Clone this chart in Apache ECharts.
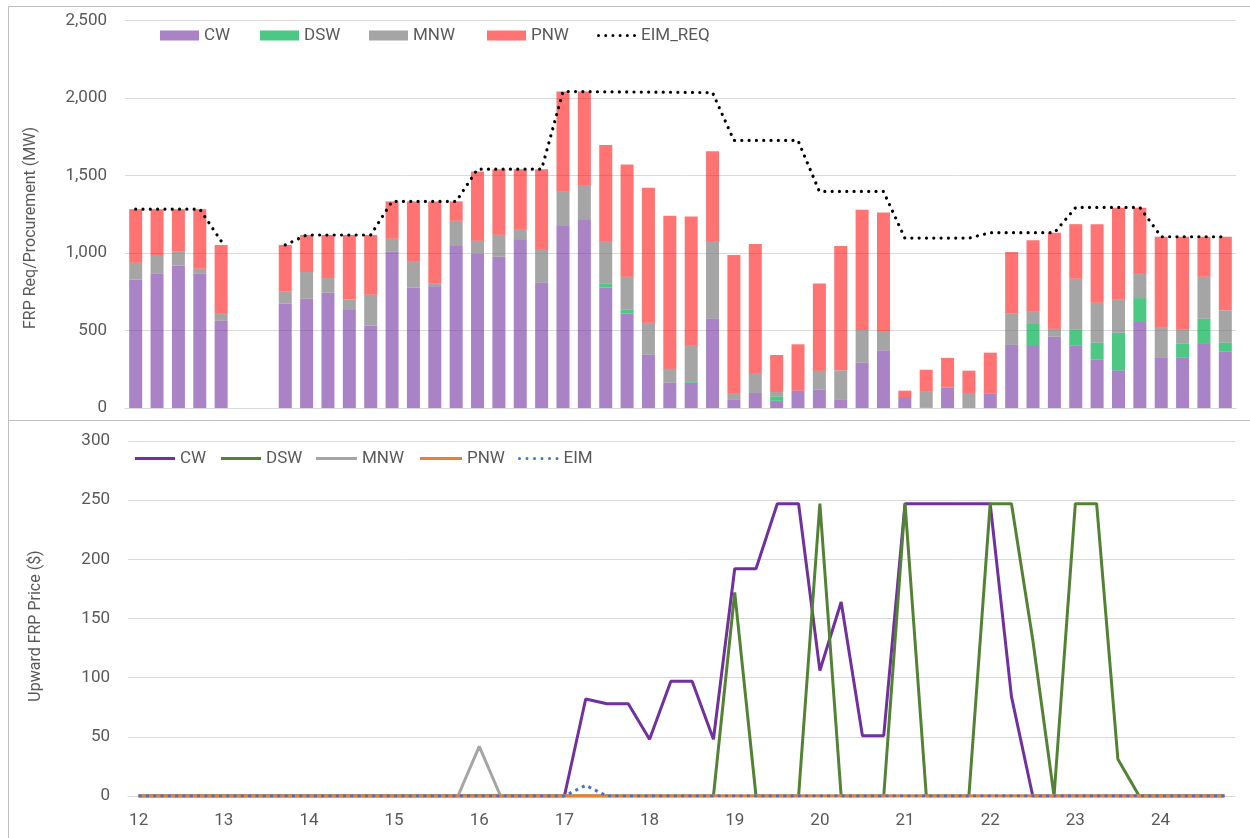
<!DOCTYPE html>
<html>
<head>
<meta charset="utf-8">
<script src="https://cdn.jsdelivr.net/npm/echarts@6/dist/echarts.min.js"></script>
<style>
html,body{margin:0;padding:0;background:#fff;}
#c{width:1250px;height:838px;}
</style>
</head>
<body>
<div id="c"></div>
<script>
// 15-minute intervals, hour-ending 12 to 24:45
const categories = ['12:00','12:15','12:30','12:45','13:00','13:15','13:30','13:45',
'14:00','14:15','14:30','14:45','15:00','15:15','15:30','15:45',
'16:00','16:15','16:30','16:45','17:00','17:15','17:30','17:45',
'18:00','18:15','18:30','18:45','19:00','19:15','19:30','19:45',
'20:00','20:15','20:30','20:45','21:00','21:15','21:30','21:45',
'22:00','22:15','22:30','22:45','23:00','23:15','23:30','23:45',
'24:00','24:15','24:30','24:45'];
const hourLabels = ['12','13','14','15','16','17','18','19','20','21','22','23','24'];

// Top panel: FRP procurement (MW)
const procCW  = [828,866,920,866,563,null,null,675,705,744,632,533,1010,778,785,1045,997,976,1088,808,1174,1217,778,610,344,163,163,578,56,97,47,112,118,56,292,372,71,4,130,0,92,407,406,460,404,312,243,555,327,327,417,365];
const procDSW = [0,0,0,0,0,null,null,0,0,0,0,0,0,0,0,0,0,0,0,0,0,0,26,26,0,0,5,0,0,0,28,0,0,0,0,0,0,0,0,0,0,0,136,0,103,109,243,154,0,88,159,56];
const procMNW = [109,121,90,33,45,null,null,77,172,94,69,198,82,170,21,163,82,142,66,217,221,217,271,211,206,91,236,499,41,129,28,0,123,187,211,125,0,101,6,97,0,202,81,52,327,258,217,162,193,92,271,209];
const procPNW = [346,296,273,384,444,null,null,300,239,278,415,385,241,385,527,125,447,423,387,516,647,608,621,724,871,986,832,580,890,832,239,299,563,802,776,765,41,142,187,144,265,397,460,619,352,507,589,421,585,598,258,475];
const eimReq  = [1283,1283,1283,1283,1077,null,null,1052,1116,1116,1116,1116,1333,1333,1333,1333,1541,1541,1541,1541,2042,2041,2040,2039,2038,2037,2036,2035,1726,1726,1726,1726,1397,1397,1397,1397,1096,1096,1096,1096,1131,1131,1131,1131,1294,1294,1294,1294,1105,1105,1105,1105];

// Bottom panel: upward FRP price ($)
const priceCW  = [0,0,0,0,0,0,0,0,0,0,0,0,0,0,0,0,0,0,0,0,0,82,78,78,48,97,97,48,192,192,247,247,106,164,51,51,247,247,247,247,247,84,0,0,0,0,0,0,0,0,0,0];
const priceDSW = [0,0,0,0,0,0,0,0,0,0,0,0,0,0,0,0,0,0,0,0,0,0,0,0,0,0,0,0,172,0,0,0,247,0,0,0,247,0,0,0,247,247,132,0,247,247,31,0,0,0,0,0];
const priceMNW = [0,0,0,0,0,0,0,0,0,0,0,0,0,0,0,0,42,0,0,0,0,0,0,0,0,0,0,0,0,0,0,0,0,0,0,0,0,0,0,0,0,0,0,0,0,0,0,0,0,0,0,0];
const pricePNW = [0,0,0,0,0,0,0,0,0,0,0,0,0,0,0,0,0,0,0,0,0,0,0,0,0,0,0,0,0,0,0,0,0,0,0,0,0,0,0,0,0,0,0,0,0,0,0,0,0,0,0,0];
const priceEIM = [0,0,0,0,0,0,0,0,0,0,0,0,0,0,0,0,0,0,0,0,0,9,0,0,0,0,0,0,0,0,0,0,0,0,0,0,0,0,0,0,0,0,0,0,0,0,0,0,0,0,0,0];

const FONT = 'Roboto';
const TXT = '#595959';
const GRID = '#D9D9D9';

// legend icon: row of round dots (style only)
function dotsPath(n, pitch, d) {
  const r = d / 2;
  let p = 'path://';
  for (let k = 0; k < n; k++) {
    const x0 = k * pitch;
    p += 'M' + x0 + ',' + r + 'a' + r + ',' + r + ' 0 1,0 ' + d + ',0a' + r + ',' + r + ' 0 1,0 ' + (-d) + ',0';
  }
  return p;
}

const chart = echarts.init(document.getElementById('c'), null, {renderer:'canvas'});

function legendItem(name, left, top, opts) {
  return Object.assign({
    data:[name], left:left, top:top, itemGap:0,
    textStyle:{fontFamily:FONT, fontSize:17, color:TXT},
    selectedMode:false
  }, opts||{});
}

const option = {
  animation:false,
  backgroundColor:'#ffffff',
  graphic:[
    {type:'rect', shape:{x:8.5,y:6.5,width:1260,height:414}, style:{fill:'none', stroke:'#BFBFBF', lineWidth:1}, silent:true, z:-10},
    {type:'rect', shape:{x:8.5,y:420.5,width:1260,height:430}, style:{fill:'none', stroke:'#BFBFBF', lineWidth:1}, silent:true, z:-10},
    {type:'text', x:31, y:228, rotation:Math.PI/2,
      style:{text:'FRP Req/Procurement (MW)', fontFamily:FONT, fontSize:16, fill:TXT, textAlign:'center', textVerticalAlign:'middle'}},
    {type:'text', x:36, y:626, rotation:Math.PI/2,
      style:{text:'Upward FRP Price ($)', fontFamily:FONT, fontSize:16, fill:TXT, textAlign:'center', textVerticalAlign:'middle'}}
  ],
  legend:[
    legendItem('CW', 155, 22, {icon:'rect', itemWidth:39, itemHeight:10}),
    legendItem('DSW', 255, 22, {icon:'rect', itemWidth:39, itemHeight:10}),
    legendItem('MNW', 364, 22, {icon:'rect', itemWidth:39, itemHeight:10}),
    legendItem('PNW', 482, 22, {icon:'rect', itemWidth:39, itemHeight:10}),
    legendItem('EIM_REQ', 592, 22, {icon:dotsPath(6, 7.2, 3), itemWidth:39, itemHeight:3}),
    legendItem('CW ', 130, 445, {icon:'rect', itemWidth:40, itemHeight:3}),
    legendItem('DSW ', 216, 445, {icon:'rect', itemWidth:40, itemHeight:3}),
    legendItem('MNW ', 311, 445, {icon:'rect', itemWidth:41, itemHeight:3}),
    legendItem('PNW ', 415, 445, {icon:'rect', itemWidth:42, itemHeight:3}),
    legendItem('EIM', 513, 445, {icon:dotsPath(6, 7.5, 3), itemWidth:40.5, itemHeight:3})
  ],
  grid:[
    {left:125, right:14, top:20.5, bottom:430},
    {left:128, right:15, top:441, bottom:42}
  ],
  xAxis:[
    {type:'category', gridIndex:0, data:categories, boundaryGap:true,
      axisLine:{show:true, lineStyle:{color:GRID}}, axisTick:{show:false}, axisLabel:{show:false}},
    {type:'category', gridIndex:1, data:categories, boundaryGap:true,
      axisLine:{show:true, lineStyle:{color:GRID}}, axisTick:{show:false},
      axisLabel:{interval:3, margin:16, fontFamily:FONT, fontSize:17, color:TXT,
        formatter:function(v, i){ return hourLabels[Math.round(i/4)]; }}}
  ],
  yAxis:[
    {type:'value', gridIndex:0, min:0, max:2500, interval:500,
      axisLine:{show:false}, axisTick:{show:false},
      splitLine:{lineStyle:{color:GRID, width:1}},
      axisLabel:{margin:18, fontFamily:FONT, fontSize:17, color:TXT,
        formatter:function(v){ return v.toLocaleString('en-US'); }}},
    {type:'value', gridIndex:1, min:0, max:300, interval:50,
      axisLine:{show:false}, axisTick:{show:false},
      splitLine:{lineStyle:{color:GRID, width:1}},
      axisLabel:{margin:18, fontFamily:FONT, fontSize:17, color:TXT}}
  ],
  series:[
    {name:'CW', type:'bar', stack:'p', xAxisIndex:0, yAxisIndex:0, data:procCW, barWidth:13,
      itemStyle:{color:'rgba(112,48,160,0.6)'}},
    {name:'DSW', type:'bar', stack:'p', xAxisIndex:0, yAxisIndex:0, data:procDSW, barWidth:13,
      itemStyle:{color:'rgba(0,176,80,0.7)'}},
    {name:'MNW', type:'bar', stack:'p', xAxisIndex:0, yAxisIndex:0, data:procMNW, barWidth:13,
      itemStyle:{color:'rgba(127,127,127,0.7)'}},
    {name:'PNW', type:'bar', stack:'p', xAxisIndex:0, yAxisIndex:0, data:procPNW, barWidth:13,
      itemStyle:{color:'rgba(255,0,0,0.55)'}},
    {name:'EIM_REQ', type:'line', xAxisIndex:0, yAxisIndex:0, data:eimReq, symbol:'none', connectNulls:false,
      itemStyle:{color:'#000000'},
      lineStyle:{color:'#000000', width:3.2, type:[0.01,7.3], cap:'round'}, z:5},

    {name:'CW ', type:'line', xAxisIndex:1, yAxisIndex:1, data:priceCW, symbol:'none',
      itemStyle:{color:'#7030A0'}, lineStyle:{color:'#7030A0', width:3}},
    {name:'DSW ', type:'line', xAxisIndex:1, yAxisIndex:1, data:priceDSW, symbol:'none',
      itemStyle:{color:'#548235'}, lineStyle:{color:'#548235', width:3}},
    {name:'MNW ', type:'line', xAxisIndex:1, yAxisIndex:1, data:priceMNW, symbol:'none',
      itemStyle:{color:'#A5A5A5'}, lineStyle:{color:'#A5A5A5', width:3}},
    {name:'PNW ', type:'line', xAxisIndex:1, yAxisIndex:1, data:pricePNW, symbol:'none',
      itemStyle:{color:'#ED7D31'}, lineStyle:{color:'#ED7D31', width:3}},
    {name:'EIM', type:'line', xAxisIndex:1, yAxisIndex:1, data:priceEIM, symbol:'none',
      itemStyle:{color:'#4472C4'}, lineStyle:{color:'#4472C4', width:3, type:[3,4.3], cap:'butt'}}
  ]
};
chart.setOption(option);
</script>
</body>
</html>
